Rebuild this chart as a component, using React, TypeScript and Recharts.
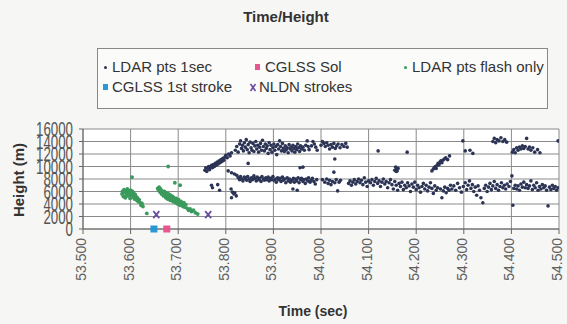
import React from 'react';
import { ScatterChart, Scatter, XAxis, YAxis, CartesianGrid } from 'recharts';

// time (sec), height (m) pairs
const ldarRise = [
  [53.756, 9400], [53.758, 9800], [53.760, 9200], [53.762, 9700], [53.764, 10000], [53.766, 9500],
  [53.768, 9900], [53.770, 10200], [53.772, 9800], [53.774, 10300], [53.776, 10000], [53.778, 10500],
  [53.780, 10200], [53.782, 10700], [53.784, 10400], [53.786, 10900], [53.788, 10600], [53.790, 11100],
  [53.792, 10800], [53.794, 11300], [53.796, 11000], [53.798, 11500], [53.800, 11800], [53.803, 11400],
  [53.806, 12000], [53.809, 11700], [53.812, 12200],
  [53.770, 7000], [53.772, 6600], [53.783, 7100], [53.787, 6200], [53.811, 6400], [53.814, 5900],
  [53.817, 5600], [53.822, 5300], [53.812, 5000], [53.819, 5800],
  [53.805, 9300], [53.812, 9000], [53.818, 8800], [53.823, 8600],
];

const ldarUpper = [
  [53.820, 12600], [53.823, 13200], [53.826, 12300], [53.829, 13600], [53.831, 14100], [53.833, 12900],
  [53.835, 13400], [53.837, 12500], [53.839, 13800], [53.841, 13100], [53.843, 14300], [53.845, 12700],
  [53.847, 10500], [53.847, 13500], [53.849, 12200], [53.851, 13900], [53.853, 13000], [53.855, 12600],
  [53.857, 13700], [53.859, 12400], [53.861, 13300], [53.863, 14000], [53.865, 12800], [53.867, 13400],
  [53.869, 12300], [53.871, 13100], [53.873, 13700], [53.875, 12600], [53.877, 14200], [53.879, 13200],
  [53.881, 12500], [53.883, 13600], [53.885, 12900], [53.887, 13300], [53.889, 12100], [53.891, 13800],
  [53.893, 12700], [53.895, 13400], [53.897, 12300], [53.899, 13000], [53.901, 13600], [53.903, 12600],
  [53.905, 13200], [53.907, 11900], [53.909, 13500], [53.911, 12800], [53.913, 14100], [53.915, 13200],
  [53.917, 12500], [53.919, 13700], [53.921, 12900], [53.923, 12400], [53.925, 13300], [53.927, 12700],
  [53.929, 13000], [53.931, 12200], [53.933, 13500], [53.935, 12800], [53.937, 13100], [53.939, 12500],
  [53.941, 13400], [53.943, 12900], [53.945, 12300], [53.947, 13200], [53.949, 12700], [53.951, 13600],
  [53.953, 13000], [53.955, 12400], [53.957, 13300], [53.959, 12800], [53.962, 13100], [53.965, 12600],
  [53.968, 13400], [53.971, 14100], [53.973, 13200], [53.975, 12700], [53.980, 13300], [53.983, 14000],
  [53.986, 13600], [53.989, 13100], [53.992, 12600], [54.000, 13400], [54.003, 14000], [54.006, 13700],
  [54.009, 13200], [54.012, 13800], [54.015, 13400], [54.018, 12800], [54.021, 13500], [54.024, 13100],
  [54.027, 13700], [54.029, 11200], [54.030, 12900], [54.033, 13300], [54.036, 13600], [54.040, 13000],
  [54.044, 13500], [54.048, 13200], [54.052, 13700], [54.055, 13100],
];

const ldarLower = [
  [53.826, 8200], [53.829, 7900], [53.831, 8400], [53.834, 8000], [53.836, 7700], [53.839, 8300],
  [53.841, 8100], [53.844, 7800], [53.846, 8400], [53.849, 8000], [53.851, 7600], [53.854, 8200],
  [53.856, 7900], [53.859, 8500], [53.861, 8100], [53.864, 7700], [53.866, 8300], [53.869, 7900],
  [53.871, 8100], [53.874, 7600], [53.876, 8400], [53.879, 8000], [53.881, 7800], [53.884, 8200],
  [53.886, 7900], [53.889, 8300], [53.891, 7700], [53.894, 8100], [53.896, 7900], [53.899, 8400],
  [53.901, 7800], [53.904, 8000], [53.906, 7500], [53.909, 8200], [53.911, 7900], [53.914, 8100],
  [53.916, 7600], [53.919, 8300], [53.921, 7800], [53.924, 8000], [53.926, 7400], [53.929, 8200],
  [53.931, 7700], [53.934, 8000], [53.936, 7500], [53.941, 6400], [53.950, 6200], [53.956, 9800],
  [53.962, 9900], [53.939, 7800], [53.942, 8100], [53.944, 7500], [53.947, 8000], [53.949, 7700],
  [53.952, 8200], [53.954, 7400], [53.957, 7900], [53.959, 8100], [53.962, 7600], [53.964, 7900],
  [53.967, 7300], [53.969, 8000], [53.972, 7700], [53.974, 8200], [53.977, 7500], [53.979, 7800],
  [53.982, 8100], [53.985, 7600], [53.988, 7200], [53.991, 7900], [54.003, 7900], [54.008, 7500],
  [54.012, 8000], [54.015, 7300], [54.018, 7800], [54.021, 7100], [54.024, 7600], [54.027, 9100],
  [54.029, 7400], [54.032, 7900], [54.035, 6100], [54.038, 7500], [54.041, 7800], [54.058, 7300],
  [54.061, 7700], [54.064, 7000], [54.067, 7500], [54.070, 7900], [54.073, 7200], [54.076, 7600],
  [54.079, 8000], [54.082, 7400], [54.085, 7800], [54.088, 7100], [54.091, 8200], [54.094, 7500],
  [54.097, 6800], [54.100, 7700], [54.104, 7400], [54.107, 7900], [54.110, 7000], [54.113, 7600],
  [54.116, 8100], [54.119, 7300], [54.122, 7700], [54.125, 6800], [54.128, 7500], [54.131, 8000],
  [54.134, 7200], [54.137, 7600], [54.140, 6600], [54.143, 7400], [54.146, 7900], [54.149, 7100],
  [54.152, 6400], [54.155, 7600], [54.158, 7000], [54.161, 6200], [54.164, 7300], [54.167, 6800],
  [54.170, 7500], [54.173, 6300], [54.176, 7000], [54.179, 6600], [54.182, 7400], [54.185, 6900],
  [54.188, 6000], [54.191, 7200], [54.194, 6700], [54.197, 7500], [54.200, 6300], [54.203, 7000],
  [54.206, 6600], [54.209, 5900], [54.212, 6800], [54.215, 7300], [54.218, 6400], [54.221, 7000],
  [54.224, 6100], [54.227, 6700], [54.230, 7400], [54.233, 6500], [54.236, 5700], [54.239, 6900],
  [54.242, 6200], [54.245, 6600], [54.251, 6400], [54.254, 5000], [54.257, 6100], [54.260, 6700],
  [54.263, 5800], [54.266, 6500], [54.269, 6200], [54.272, 7000],
  [54.155, 9400], [54.157, 9900], [54.159, 9600], [54.160, 9300], [54.162, 9700], [54.158, 9200],
];

const ldarLate = [
  [54.275, 6400], [54.279, 6900], [54.283, 6200], [54.287, 7300], [54.291, 6600], [54.295, 5900],
  [54.299, 6800], [54.303, 7400], [54.306, 6300], [54.309, 7000], [54.312, 7700], [54.315, 6500],
  [54.318, 7100], [54.321, 6000], [54.324, 6700], [54.327, 5400], [54.330, 6900], [54.333, 6200],
  [54.336, 5000], [54.340, 4200], [54.343, 6500], [54.346, 7000], [54.349, 6000], [54.352, 6700],
  [54.355, 7300], [54.358, 6300], [54.361, 6900], [54.364, 7600], [54.367, 6500], [54.370, 7100],
  [54.373, 6200], [54.376, 6800], [54.379, 7400], [54.382, 6600], [54.385, 7000], [54.388, 6400],
  [54.391, 7200], [54.395, 6800], [54.398, 7600], [54.401, 8500], [54.403, 3800], [54.405, 6500],
  [54.408, 7000], [54.411, 6400], [54.414, 6900], [54.417, 6200], [54.420, 7200], [54.423, 6700],
  [54.426, 7500], [54.429, 6600], [54.432, 7100], [54.435, 6500], [54.438, 6900], [54.441, 7700],
  [54.444, 6300], [54.447, 7000], [54.450, 6600], [54.453, 7400], [54.456, 6200], [54.459, 6800],
  [54.462, 6400], [54.465, 7100], [54.468, 6600], [54.471, 6900], [54.474, 6200], [54.477, 3700],
  [54.480, 6700], [54.483, 6300], [54.486, 7000], [54.489, 6500], [54.492, 6800], [54.495, 6200],
  [54.498, 6600],
  [54.120, 12500], [54.181, 12300],
  [54.233, 9300], [54.236, 9600], [54.238, 9800], [54.240, 10000], [54.242, 9700], [54.244, 10200],
  [54.246, 10500], [54.248, 10300], [54.250, 10700], [54.252, 10900], [54.254, 10600], [54.256, 11000],
  [54.259, 11200], [54.262, 11400], [54.266, 11100], [54.270, 11700],
  [54.298, 14100], [54.303, 12500], [54.313, 12600], [54.319, 12100],
  [54.361, 14000], [54.364, 14500], [54.367, 13800], [54.370, 14300], [54.374, 14100], [54.378, 14600],
  [54.382, 14000], [54.386, 14300], [54.390, 13900],
  [54.402, 12300], [54.405, 12700], [54.408, 12200], [54.411, 13000], [54.414, 12600], [54.417, 13100],
  [54.420, 12800], [54.423, 13300], [54.426, 12900], [54.429, 13200], [54.432, 14500], [54.435, 12800],
  [54.438, 13100], [54.441, 12600], [54.445, 13000], [54.449, 12300], [54.455, 12700], [54.460, 12200],
  [54.498, 14100],
];

const ldarFlash = [
  [53.582, 5600], [53.583, 6000], [53.585, 5200], [53.586, 6300], [53.588, 5800], [53.589, 5000],
  [53.590, 6100], [53.592, 5500], [53.593, 6400], [53.594, 5900], [53.595, 5300], [53.597, 6000],
  [53.598, 5600], [53.599, 4900], [53.600, 6200], [53.601, 5700], [53.603, 8300], [53.603, 5400],
  [53.604, 6000], [53.606, 5100], [53.607, 5700], [53.608, 4800], [53.610, 5500], [53.611, 5200],
  [53.613, 4600], [53.614, 5000], [53.616, 4400], [53.618, 4700], [53.620, 4200], [53.622, 3800],
  [53.624, 4100], [53.626, 3600], [53.634, 2500],
  [53.657, 6500], [53.659, 6200], [53.660, 6700], [53.662, 5900], [53.663, 6400], [53.665, 5600],
  [53.666, 6100], [53.668, 5800], [53.669, 5300], [53.671, 6000], [53.672, 5500], [53.674, 5000],
  [53.675, 5800], [53.677, 5300], [53.678, 4800], [53.679, 10000], [53.680, 5600], [53.681, 5100],
  [53.683, 4600], [53.684, 5400], [53.686, 4900], [53.688, 5200], [53.689, 4400], [53.691, 5000],
  [53.692, 4700], [53.693, 7400], [53.694, 4200], [53.696, 4900], [53.698, 4500], [53.699, 4000],
  [53.701, 4700], [53.703, 4300], [53.704, 7000], [53.704, 3800], [53.706, 4400], [53.708, 4000],
  [53.710, 3600], [53.712, 4200], [53.714, 3500], [53.716, 3900], [53.719, 3300], [53.722, 3000],
  [53.725, 3200], [53.728, 2800], [53.732, 3000], [53.736, 2600], [53.741, 2400],
];

const cglssSol = [[53.676, 0]];
const cglssFirst = [[53.649, 0]];
const nldnStrokes = [[53.654, 2300], [53.763, 2300]];

const xTicks = [53.5, 53.6, 53.7, 53.8, 53.9, 54.0, 54.1, 54.2, 54.3, 54.4, 54.5];
const yTicks = [0, 2000, 4000, 6000, 8000, 10000, 12000, 14000, 16000];

const toPts = (arr: number[][]) => arr.map(([t, h]) => ({ t, h }));

const NAVY = '#2c3455';
const GREEN = '#3a9a5c';
const PINK = '#e9558f';
const BLUE = '#2b98d6';
const PURPLE = '#6a4d9e';
const FONT = '"Liberation Sans", Arial, sans-serif';

const dot = (color: string, r: number) => (p: any) => <circle cx={p.cx} cy={p.cy} r={r} fill={color} />;
const square = (color: string) => (p: any) => <rect x={p.cx - 3.5} y={p.cy - 3.5} width={7} height={7} fill={color} />;
const cross = (p: any) => (
  <g stroke={PURPLE} strokeWidth={1.8}>
    <line x1={p.cx - 3} y1={p.cy - 3.5} x2={p.cx + 3} y2={p.cy + 3.5} />
    <line x1={p.cx + 3} y1={p.cy - 3.5} x2={p.cx - 3} y2={p.cy + 3.5} />
  </g>
);

const YTick = ({ x, y, payload }: any) => (
  <g transform={`translate(${x},${y})`}>
    <text transform="scale(0.95,1.4)" textAnchor="end" dy="0.36em" fontSize={14} fill="#555" fontFamily={FONT}>
      {payload.value}
    </text>
  </g>
);

const XTick = ({ x, y, payload }: any) => (
  <g transform={`translate(${x - 2},${y}) rotate(-90)`}>
    <text textAnchor="end" dy="0.36em" fontSize={14} fill="#606060" fontFamily={FONT}>
      {payload.value.toFixed(3)}
    </text>
  </g>
);

const legendText: React.CSSProperties = { position: 'absolute', fontSize: 15, color: '#333', whiteSpace: 'nowrap', lineHeight: '18px' };

export default function App() {
  return (
    <div style={{ position: 'absolute', left: 0, top: 0, width: 567, height: 324, background: '#f6f6f4', fontFamily: FONT, overflow: 'hidden' }}>
      <div style={{ position: 'absolute', left: 0, width: 572, top: 8, textAlign: 'center', fontWeight: 'bold', fontSize: 15, color: '#333' }}>
        Time/Height
      </div>
      <div style={{ position: 'absolute', left: 97, top: 48, width: 449, height: 59, border: '1px solid #888', background: '#fbfbfa' }} />
      <div style={{ position: 'absolute', left: 104, top: 66, width: 3, height: 3, borderRadius: 2, background: NAVY }} />
      <div style={{ ...legendText, left: 112, top: 58 }}>LDAR pts 1sec</div>
      <div style={{ position: 'absolute', left: 255, top: 64, width: 5, height: 6, background: PINK }} />
      <div style={{ ...legendText, left: 265, top: 58 }}>CGLSS Sol</div>
      <div style={{ position: 'absolute', left: 404, top: 66, width: 3, height: 3, borderRadius: 2, background: GREEN }} />
      <div style={{ ...legendText, left: 412, top: 58 }}>LDAR pts flash only</div>
      <div style={{ position: 'absolute', left: 103, top: 84, width: 5, height: 6, background: BLUE }} />
      <div style={{ ...legendText, left: 112, top: 78 }}>CGLSS 1st stroke</div>
      <svg style={{ position: 'absolute', left: 249, top: 83 }} width={8} height={9}>
        <line x1={1.5} y1={1} x2={6.5} y2={8} stroke={PURPLE} strokeWidth={1.6} />
        <line x1={6.5} y1={1} x2={1.5} y2={8} stroke={PURPLE} strokeWidth={1.6} />
      </svg>
      <div style={{ ...legendText, left: 259, top: 78 }}>NLDN strokes</div>
      <div style={{ position: 'absolute', left: 18, top: 180, transform: 'translate(-50%,-50%) rotate(-90deg)', fontWeight: 'bold', fontSize: 15, color: '#333', whiteSpace: 'nowrap' }}>
        Height (m)
      </div>
      <div style={{ position: 'absolute', left: 0, width: 626, top: 303, textAlign: 'center', fontWeight: 'bold', fontSize: 14, color: '#333' }}>
        Time (sec)
      </div>
      <div style={{ position: 'absolute', left: 0, top: 0 }}>
        <ScatterChart width={567} height={324} margin={{ top: 129, right: 8, bottom: 0, left: 0 }}>
          <CartesianGrid stroke="#8a8a8a" fill="#ffffff" strokeWidth={1} />
          <XAxis
            type="number"
            dataKey="t"
            domain={[53.5, 54.5]}
            ticks={xTicks}
            interval={0}
            height={95}
            tickSize={5}
            tickMargin={4}
            tick={<XTick />}
            stroke="#666"
            allowDataOverflow
          />
          <YAxis
            type="number"
            dataKey="h"
            domain={[0, 16000]}
            ticks={yTicks}
            interval={0}
            width={83}
            tickSize={4}
            tickMargin={6}
            tick={<YTick />}
            stroke="#666"
          />
          <Scatter data={toPts(ldarRise)} shape={dot(NAVY, 1.8)} isAnimationActive={false} />
          <Scatter data={toPts(ldarUpper)} shape={dot(NAVY, 1.8)} isAnimationActive={false} />
          <Scatter data={toPts(ldarLower)} shape={dot(NAVY, 1.8)} isAnimationActive={false} />
          <Scatter data={toPts(ldarLate)} shape={dot(NAVY, 1.8)} isAnimationActive={false} />
          <Scatter data={toPts(ldarFlash)} shape={dot(GREEN, 1.9)} isAnimationActive={false} />
          <Scatter data={toPts(nldnStrokes)} shape={cross} isAnimationActive={false} />
          <Scatter data={toPts(cglssFirst)} shape={square(BLUE)} isAnimationActive={false} />
          <Scatter data={toPts(cglssSol)} shape={square(PINK)} isAnimationActive={false} />
        </ScatterChart>
      </div>
    </div>
  );
}
